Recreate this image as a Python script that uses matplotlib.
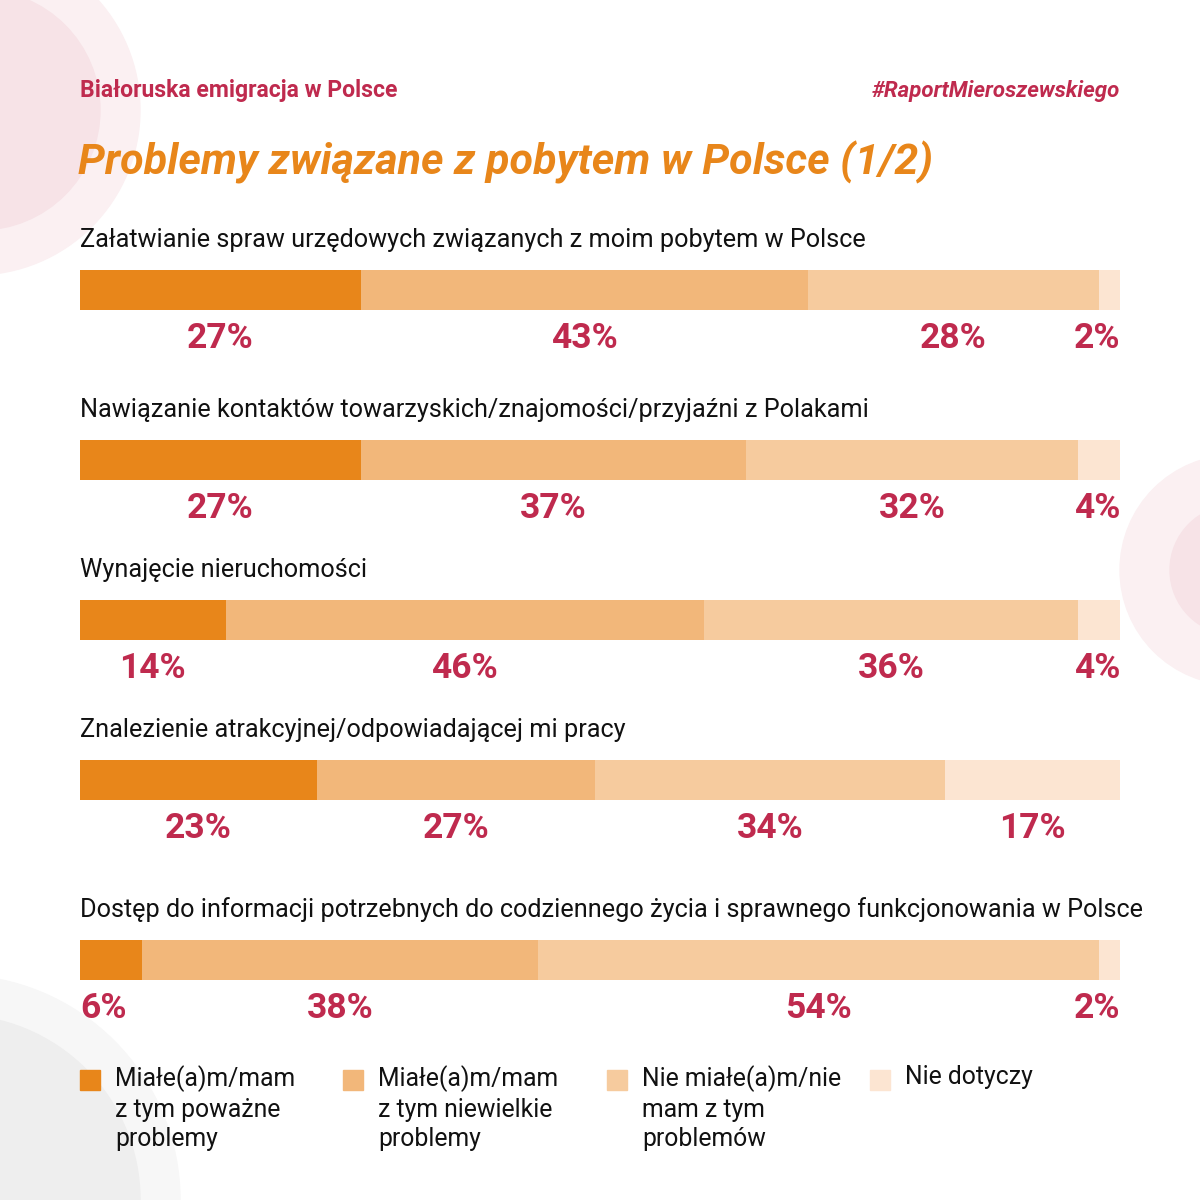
import numpy as np
import matplotlib.pyplot as plt
from matplotlib.patches import Circle, Rectangle

plt.rcParams['font.family'] = ['Roboto', 'DejaVu Sans']

# data
questions = [
    "Załatwianie spraw urzędowych związanych z moim pobytem w Polsce",
    "Nawiązanie kontaktów towarzyskich/znajomości/przyjaźni z Polakami",
    "Wynajęcie nieruchomości",
    "Znalezienie atrakcyjnej/odpowiadającej mi pracy",
    "Dostęp do informacji potrzebnych do codziennego życia i sprawnego funkcjonowania w Polsce",
]
serious = [27, 27, 14, 23, 6]
minor = [43, 37, 46, 27, 38]
none_ = [28, 32, 36, 34, 54]
na = [2, 4, 4, 17, 2]
legend_labels = [
    "Miałe(a)m/mam\nz tym poważne\nproblemy",
    "Miałe(a)m/mam\nz tym niewielkie\nproblemy",
    "Nie miałe(a)m/nie\nmam z tym\nproblemów",
    "Nie dotyczy",
]

colors = ['#E8861A', '#F2B77A', '#F6CB9E', '#FCE5D2']
crimson = '#BF2A4E'
orange = '#E8861A'

fig = plt.figure(figsize=(12, 12), dpi=100)
ax = fig.add_axes([0, 0, 1, 1])
ax.set_xlim(0, 1200)
ax.set_ylim(1200, 0)
ax.axis('off')
renderer = fig.canvas.get_renderer()

# decorative circles
ax.add_patch(Circle((-25, 110), 165, color='#FBF0F2', zorder=0))
ax.add_patch(Circle((-20, 110), 120, color='#F7E3E7', zorder=0))
ax.add_patch(Circle((1235, 570), 115, color='#FBF0F2', zorder=0))
ax.add_patch(Circle((1235, 570), 65, color='#F7E3E7', zorder=0))
ax.add_patch(Circle((-45, 1200), 225, color='#F7F7F7', zorder=0))
ax.add_patch(Circle((-45, 1200), 185, color='#EEEEEE', zorder=0))

# header
ax.text(80, 91, "Białoruska emigracja w Polsce", fontsize=16.6, fontweight='bold',
        color=crimson, va='center', ha='left')
ax.text(1120, 91, "#RaportMieroszewskiego", fontsize=16, fontweight='bold',
        fontstyle='italic', color=crimson, va='center', ha='right')
ax.text(78, 162, "Problemy związane z pobytem w Polsce (1/2)", fontsize=31,
        fontweight='bold', fontstyle='italic', color=orange, va='center', ha='left')

x0, x1 = 80, 1120
bar_tops = [270, 440, 600, 760, 940]
bar_h = 40
series = np.array([serious, minor, none_, na], dtype=float)

for i, q in enumerate(questions):
    top = bar_tops[i]
    ax.text(x0, top - 30, q, fontsize=18.2, color='#111111', va='center', ha='left')
    vals = series[:, i]
    total = vals.sum()
    left = x0
    for j, v in enumerate(vals):
        w = (x1 - x0) * v / total
        ax.barh(top + bar_h / 2, w, left=left, height=bar_h, color=colors[j],
                edgecolor='none', zorder=2)
        t = ax.text(left + w / 2, top + 69, f"{int(v)}%", fontsize=25.5,
                    fontweight='bold', color=crimson, ha='center', va='center')
        tw = t.get_window_extent(renderer).width
        if w < tw + 30:
            if j == 0:
                t.set_x(x0)
                t.set_ha('left')
            elif j == len(vals) - 1:
                t.set_x(x1)
                t.set_ha('right')
        left += w

# legend
leg_x = [80, 343, 607, 870]
for j, lab in enumerate(legend_labels):
    ax.add_patch(Rectangle((leg_x[j], 1070), 20, 20, color=colors[j], zorder=2))
    ax.text(leg_x[j] + 35, 1065, lab, fontsize=17.8, color='#111111', va='top',
            ha='left', linespacing=1.3)

fig.savefig("out.png", dpi=100, facecolor='white')
